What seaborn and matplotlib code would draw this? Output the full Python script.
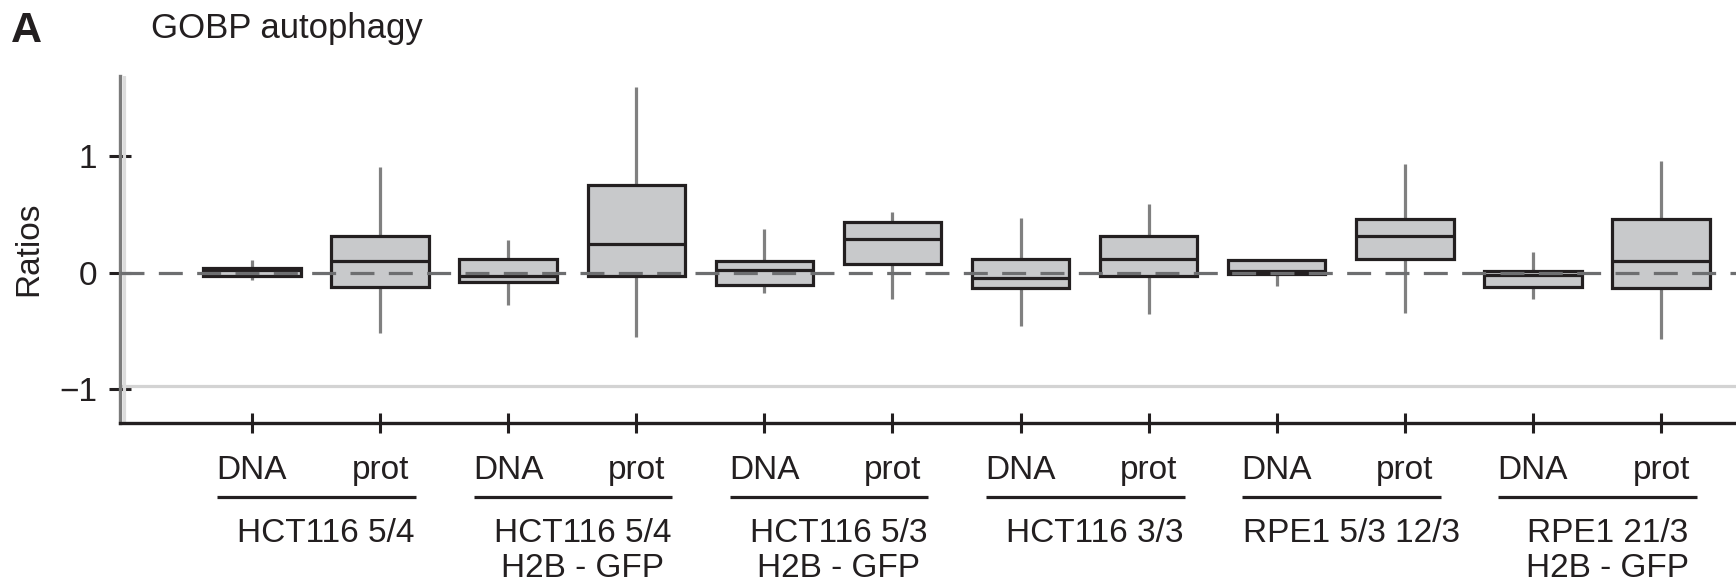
import numpy as np
import pandas as pd
import matplotlib
matplotlib.use("Agg")
import matplotlib.pyplot as plt
import matplotlib.transforms as mtransforms
import seaborn as sns

# ---------------- data ----------------
groups_line1 = ["HCT116 5/4", "HCT116 5/4", "HCT116 5/3", "HCT116 3/3",
                "RPE1 5/3 12/3", "RPE1 21/3"]
groups_line2 = ["", "H2B - GFP", "H2B - GFP", "", "", "H2B - GFP"]
kinds = ["DNA", "prot"]

whisker_low = [-0.063, -0.520, -0.280, -0.549, -0.177, -0.229,
               -0.454, -0.354, -0.112, -0.349, -0.229, -0.571]
q1_vals     = [-0.027, -0.126, -0.077, -0.029, -0.106, 0.071,
               -0.131, -0.029, -0.007, 0.114, -0.120, -0.131]
median_vals = [0.023, 0.100, -0.029, 0.249, 0.020, 0.289,
               -0.049, 0.117, 0.015, 0.314, -0.016, 0.097]
q3_vals     = [0.044, 0.314, 0.120, 0.751, 0.100, 0.434,
               0.117, 0.314, 0.105, 0.463, 0.018, 0.463]
whisker_high = [0.108, 0.903, 0.280, 1.589, 0.374, 0.520,
                0.469, 0.589, 0.105, 0.931, 0.174, 0.957]

y_ticks = [-1, 0, 1]
y_ticklabels = ["\u22121", "0", "1"]
title = "GOBP autophagy"
panel = "A"
ylabel = "Ratios"

# ---------------- build long table ----------------
categories = [f"{g}|{i}|{k}" for i, g in enumerate(groups_line1) for k in kinds]
rows = []
for c, a, b, m, d, e in zip(categories, whisker_low, q1_vals, median_vals,
                            q3_vals, whisker_high):
    for v in (a, b, m, d, e):
        rows.append({"cat": c, "ratio": v})
df = pd.DataFrame(rows)

# ---------------- style ----------------
sns.set_theme(style="white")
plt.rcParams["font.family"] = ["Liberation Sans", "DejaVu Sans"]
plt.rcParams["axes.unicode_minus"] = True

DARK = "#231f20"
BOXFILL = "#c8c9cb"
WHISK = "#808080"
FS = 24

fig = plt.figure(figsize=(17.36, 5.82), dpi=100)
ax = fig.add_axes([120 / 1736, 1 - 423.3 / 582, 1 - 120 / 1736, (423.3 - 76) / 582])

sns.boxplot(data=df, x="cat", y="ratio", order=categories, ax=ax,
            whis=np.inf, width=0.76, color=BOXFILL, saturation=1,
            linecolor=DARK, linewidth=2.2, showcaps=False,
            boxprops={"edgecolor": DARK, "linewidth": 2.3, "zorder": 3},
            whiskerprops={"color": WHISK, "linewidth": 2.3, "zorder": 2},
            medianprops={"color": DARK, "linewidth": 2.3, "zorder": 4})

# reference lines
ax.axhline(0, color="#6d6e70", lw=2.3, ls=(0, (7.5, 4.5)), zorder=6)
ax.axhline(-0.972, color="#d3d3d3", lw=2.3, zorder=1)

ax.set_xlim(-1.03, 11.585)
ax.set_ylim(-1.291, 1.686)
ax.axvline(-1.03 + 0.028, color="#dcdcdc", lw=2.3, zorder=1)

for s in ["top", "right"]:
    ax.spines[s].set_visible(False)
ax.spines["left"].set_color("#7b7b7b")
ax.spines["left"].set_linewidth(2.4)
ax.spines["left"].set_zorder(1.5)
ax.spines["bottom"].set_color(DARK)
ax.spines["bottom"].set_linewidth(2.4)

ax.set_yticks(y_ticks)
ax.set_yticklabels(y_ticklabels)
ax.tick_params(axis="y", left=True, direction="inout", length=16.5, width=2.2,
               color=DARK, labelsize=FS, labelcolor=DARK, pad=8)
ax.set_xticks(range(len(categories)))
ax.tick_params(axis="x", bottom=True, direction="inout", length=14.4, width=2.2,
               color=DARK, labelbottom=False)
ax.set_xlabel("")
ax.set_ylabel("")
ax.grid(False)

# category labels below the axis
trans = mtransforms.blended_transform_factory(ax.transData, fig.transFigure)
for gi in range(len(groups_line1)):
    p0, p1 = 2 * gi, 2 * gi + 1
    for k, p in zip(kinds, (p0, p1)):
        ax.text(p, 1 - 479 / 582, k, transform=trans, ha="center",
                va="baseline", fontsize=FS, color=DARK, clip_on=False)
    ax.plot([p0 - 0.27, p1 + 0.28], [1 - 497 / 582] * 2, transform=trans,
            color=DARK, lw=2.3, solid_capstyle="butt", clip_on=False)
    cx = (p0 + p1) / 2 + 0.08
    ax.text(cx, 1 - 542 / 582, groups_line1[gi], transform=trans,
            ha="center", va="baseline", fontsize=FS, color=DARK, clip_on=False)
    if groups_line2[gi]:
        ax.text(cx, 1 - 577 / 582, groups_line2[gi], transform=trans,
                ha="center", va="baseline", fontsize=FS, color=DARK,
                clip_on=False)

fig.text(11 / 1736, 1 - 41.7 / 582, panel, ha="left", va="baseline",
         fontsize=31, fontweight="bold", color=DARK)
fig.text(151 / 1736, 1 - 38.3 / 582, title, ha="left", va="baseline",
         fontsize=25, color=DARK)
fig.text(29 / 1736, 1 - 249 / 582, ylabel, ha="center", va="center",
         rotation=90, fontsize=FS, color=DARK)

fig.savefig("out.png", dpi=100)
